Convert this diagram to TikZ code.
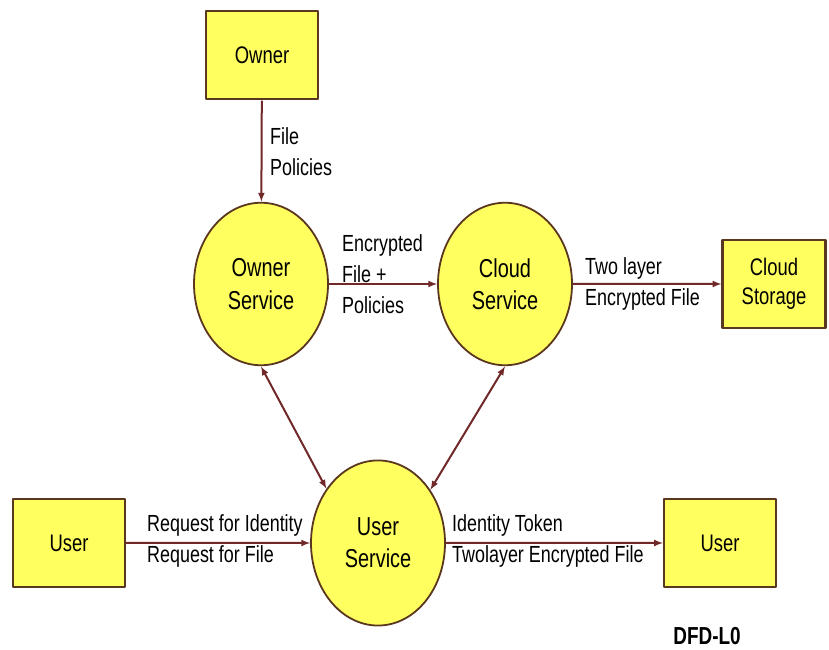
\documentclass[tikz,border=0pt]{standalone}
\usepackage{fontspec}
\setmainfont{Liberation Sans}
\usepackage{tikz}
\usetikzlibrary{arrows,%
                shapes,positioning}
\definecolor{dfdyellow}{RGB}{255,255,95}
\definecolor{dfdline}{RGB}{90,55,30}
\definecolor{flowred}{RGB}{112,40,40}
\tikzstyle{entity}=[rectangle,draw=dfdline,line width=2.2bp,fill=dfdyellow,inner sep=0pt,minimum width=112bp,minimum height=68bp,yscale=1.3,font=\fontsize{18.5}{22}\selectfont,align=center]
\tikzstyle{process}=[ellipse,draw=dfdline,line width=1.8bp,fill=dfdyellow,inner sep=0pt,minimum width=134bp,minimum height=125bp,yscale=1.3,font=\fontsize{20}{25}\selectfont,align=center]
\tikzstyle{flowlabel}=[inner sep=0pt,yscale=1.3,font=\fontsize{18}{24}\selectfont,align=left,anchor=west]
\tikzstyle{flow}=[draw=flowred,line width=2bp]

\begin{document}
\begin{tikzpicture}[>=latex,line join=bevel]
	%%
	\useasboundingbox (0bp,0bp) rectangle (829bp,650bp);
	\node (owner) at (262bp,595bp) [entity] {Owner};
	  \node (osvc) at (261bp,366bp) [process] {Owner\\Service};
	  \node (csvc) at (505bp,366bp) [process] {Cloud\\Service};
	  \node (storage) at (774bp,366bp) [entity,minimum width=103bp] {Cloud\\Storage};
	  \node (usvc) at (378bp,107bp) [process,minimum height=127bp] {User\\Service};
	  \node (userL) at (69bp,107bp) [entity] {User};
	  \node (userR) at (720bp,107bp) [entity] {User};
	  \node (lblPol) at (270bp,498bp) [flowlabel] {File\\Policies};
	  \node (lblEnc) at (342bp,376bp) [flowlabel] {Encrypted\\File +\\ Policies};
	  \node (lblTwo) at (585bp,366bp) [flowlabel] {Two layer\\Encrypted File};
	  \node (lblReq) at (147bp,109bp) [flowlabel] {Request for Identity\\Request for File};
	  \node (lblTok) at (452bp,109bp) [flowlabel] {Identity Token\\Twolayer Encrypted File};
	  \node (dfd) at (707bp,14bp) [flowlabel,anchor=center,font=\fontsize{19}{22}\selectfont\bfseries] {DFD-L0};
	  \draw [flow,->] (owner) -- (osvc);
	  \draw [flow,->] (osvc) -- (csvc);
	  \draw [flow,->] (csvc) -- (storage);
	  \draw [flow,->] (userL) -- (usvc);
	  \draw [flow,->] (usvc) -- (userR);
	  \draw [flow,<->] (osvc.south) -- (usvc.141);
	  \draw [flow,<->] (csvc.south) -- (usvc.38);
	%
\end{tikzpicture}
\end{document}
